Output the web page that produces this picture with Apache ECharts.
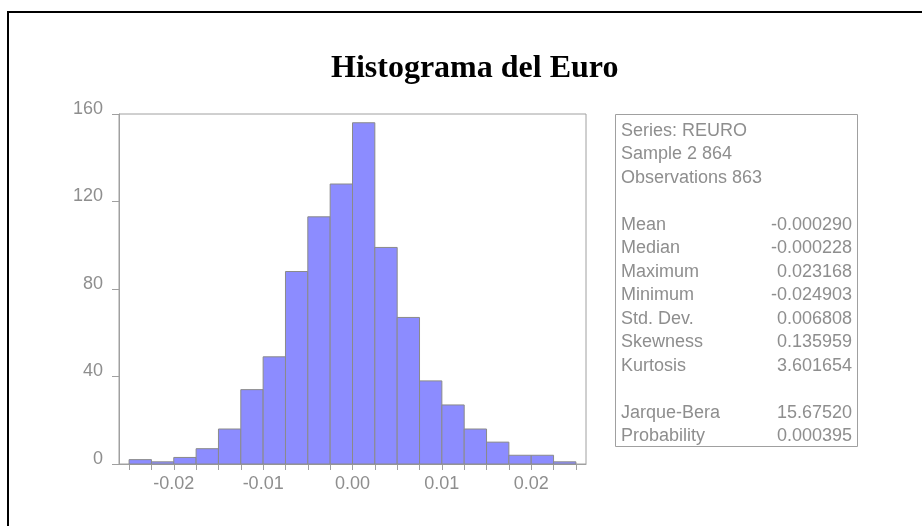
<!DOCTYPE html>
<html>
<head>
<meta charset="utf-8">
<script src="https://cdn.jsdelivr.net/npm/echarts@6/dist/echarts.min.js"></script>
<style>html,body{margin:0;padding:0;background:#fff}#c{width:922px;height:526px}</style>
</head>
<body>
<div id="c"></div>
<script>
// ---- data ----
var binEdges = [-0.025, -0.0225, -0.02, -0.0175, -0.015, -0.0125, -0.01, -0.0075, -0.005, -0.0025, 0,
                0.0025, 0.005, 0.0075, 0.01, 0.0125, 0.015, 0.0175, 0.02, 0.0225, 0.025];
var counts = [2, 1, 3, 7, 16, 34, 49, 88, 113, 128, 156, 99, 67, 38, 27, 16, 10, 4, 4, 1];
var xTickLabels = [-0.02, -0.01, 0.00, 0.01, 0.02];
var yTickLabels = [0, 40, 80, 120, 160];
var headerLines = ['Series: REURO', 'Sample 2 864', 'Observations 863'];
var statNames = ['Mean', 'Median', 'Maximum', 'Minimum', 'Std. Dev.', 'Skewness', 'Kurtosis'];
var statValues = ['-0.000290', '-0.000228', '0.023168', '-0.024903', '0.006808', '0.135959', '3.601654'];
var testNames = ['Jarque-Bera', 'Probability'];
var testValues = ['15.67520', '0.000395'];

var histData = counts.map(function (c, i) { return [binEdges[i], binEdges[i + 1], c]; });

var grey = '#8e8e8e';
var lineGrey = '#a0a0a0';
var font = 'Liberation Sans, Arial, sans-serif';

// stats box graphics
var boxX = 615, boxY = 114, boxW = 242, boxH = 332;
var textL = 621, textR = 852, lh = 23.5;
var g = [];
g.push({ type: 'rect', shape: { x: 8, y: 12, width: 1000, height: 1000 },
  style: { fill: 'none', stroke: '#000', lineWidth: 2 }, silent: true, z: 10 });
g.push({ type: 'rect', shape: { x: boxX + 0.5, y: boxY + 0.5, width: boxW, height: boxH },
  style: { fill: 'none', stroke: lineGrey, lineWidth: 1 }, silent: true });
function addText(x, y, s, align) {
  g.push({ type: 'text', x: x, y: y, style: { text: s, fill: grey, font: '18px ' + font, textAlign: align, textVerticalAlign: 'middle' }, silent: true });
}
var y0 = 131;
headerLines.forEach(function (s, i) { addText(textL, y0 + i * lh, s, 'left'); });
var y1 = y0 + 4 * lh;
statNames.forEach(function (s, i) {
  addText(textL, y1 + i * lh, s, 'left');
  addText(textR, y1 + i * lh, statValues[i], 'right');
});
var y2 = y1 + 8 * lh;
testNames.forEach(function (s, i) {
  addText(textL, y2 + i * lh, s, 'left');
  addText(textR, y2 + i * lh, testValues[i], 'right');
});

var chart = echarts.init(document.getElementById('c'), null, { renderer: 'canvas' });
chart.setOption({
  animation: false,
  backgroundColor: '#fff',
  title: {
    text: 'Histograma del Euro',
    left: 326, top: 48,
    textStyle: { fontFamily: 'Liberation Serif, Times New Roman, serif', fontWeight: 'bold', fontSize: 32, color: '#000' }
  },
  grid: { left: 119, top: 114, right: 336, bottom: 62, show: true, borderColor: lineGrey, borderWidth: 1, backgroundColor: 'transparent' },
  xAxis: {
    type: 'value', min: -0.02613, max: 0.02613,
    axisLine: { show: true, onZero: false, lineStyle: { color: lineGrey, width: 1 } },
    axisTick: { show: true, inside: false, length: 6, lineStyle: { color: lineGrey }, customValues: binEdges },
    axisLabel: { customValues: xTickLabels, color: grey, fontSize: 18, fontFamily: font, margin: 11,
      formatter: function (v) { return (Math.abs(v) < 1e-9 ? 0 : v).toFixed(2); } },
    splitLine: { show: false }
  },
  yAxis: {
    type: 'value', min: 0, max: 160, interval: 40,
    axisLine: { show: true, onZero: false, lineStyle: { color: lineGrey, width: 1 } },
    axisTick: { show: true, inside: false, length: 7, lineStyle: { color: lineGrey } },
    axisLabel: { color: grey, fontSize: 18, fontFamily: font, margin: 16, verticalAlign: 'bottom', lineHeight: 10,
      formatter: function (v) { return yTickLabels.indexOf(v) >= 0 ? String(v) : ''; } },
    splitLine: { show: false }
  },
  series: [{
    type: 'custom',
    data: histData,
    encode: { x: [0, 1], y: 2 },
    renderItem: function (params, api) {
      var p1 = api.coord([api.value(0), api.value(2)]);
      var p2 = api.coord([api.value(1), 0]);
      return {
        type: 'rect',
        shape: { x: p1[0], y: p1[1], width: p2[0] - p1[0], height: p2[1] - p1[1] },
        style: { fill: '#8c8cff', stroke: '#8a8a8a', lineWidth: 1 }
      };
    }
  }],
  graphic: g
});
</script>
</body>
</html>
